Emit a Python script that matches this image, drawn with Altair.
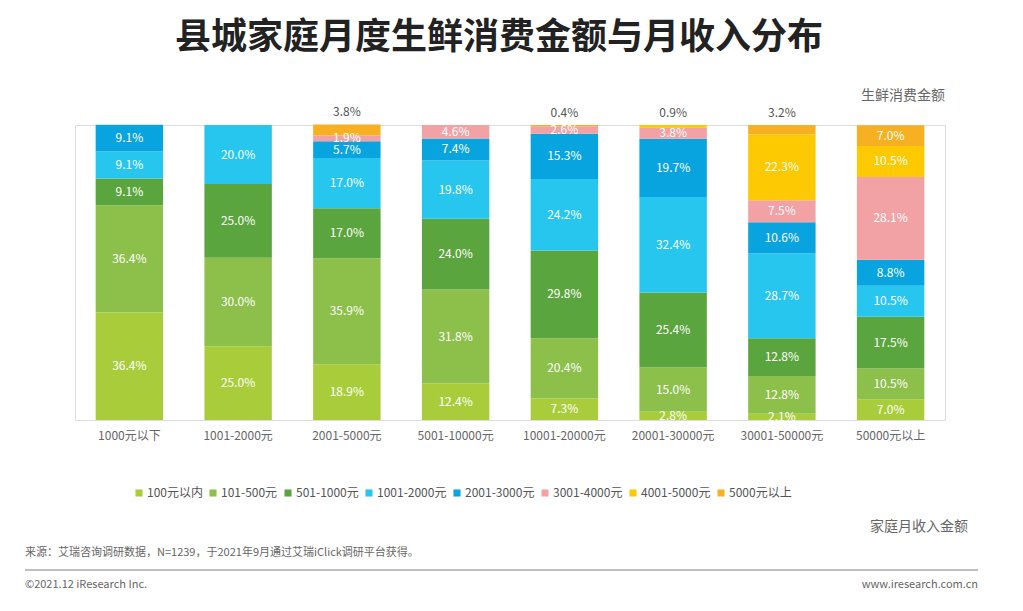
import altair as alt
import pandas as pd

incomes = ["1000元以下", "1001-2000元", "2001-5000元", "5001-10000元",
           "10001-20000元", "20001-30000元", "30001-50000元", "50000元以上"]
spends = ["100元以内", "101-500元", "501-1000元", "1001-2000元",
          "2001-3000元", "3001-4000元", "4001-5000元", "5000元以上"]
colors = ["#a9cd3a", "#8cc04b", "#5ba53e", "#27c6ef",
          "#08a4df", "#f2a1a5", "#fdc900", "#f7b021"]

# one list per income group, bottom to top in spends order
values = {
    "1000元以下":    [36.4, 36.4, 9.1, 9.1, 9.1, 0, 0, 0],
    "1001-2000元":   [25.0, 30.0, 25.0, 20.0, 0, 0, 0, 0],
    "2001-5000元":   [18.9, 35.9, 17.0, 17.0, 5.7, 1.9, 0, 3.8],
    "5001-10000元":  [12.4, 31.8, 24.0, 19.8, 7.4, 4.6, 0, 0],
    "10001-20000元": [7.3, 20.4, 29.8, 24.2, 15.3, 2.6, 0, 0.4],
    "20001-30000元": [2.8, 15.0, 25.4, 32.4, 19.7, 3.8, 0.9, 0],
    "30001-50000元": [2.1, 12.8, 12.8, 28.7, 10.6, 7.5, 22.3, 3.2],
    "50000元以上":   [7.0, 10.5, 17.5, 10.5, 8.8, 28.1, 10.5, 7.0],
}

rows = []
for inc in incomes:
    cum = 0
    vals = values[inc]
    top_idx = max(i for i, v in enumerate(vals) if v > 0)
    for i, (s, v) in enumerate(zip(spends, vals)):
        if v <= 0:
            continue
        outside = i == top_idx and v < 4
        rows.append({"income": inc, "spend": s, "order": i, "v": v,
                     "lo": cum, "hi": cum + v, "mid": cum + v / 2,
                     "label": f"{v:.1f}%", "outside": outside})
        cum += v
df = pd.DataFrame(rows)

W, H = 870, 295
x = alt.X("income:N", sort=incomes, title=None,
          scale=alt.Scale(paddingInner=0.38, paddingOuter=0.19),
          axis=alt.Axis(labelColor="#666", labelFontSize=12, ticks=False,
                        domainColor="#ddd", labelPadding=10, labelAngle=0))
yscale = alt.Scale(domain=[0, 100], nice=False)

bars = alt.Chart(df).mark_bar().encode(
    x=x,
    y=alt.Y("lo:Q", scale=yscale, axis=None),
    y2="hi:Q",
    color=alt.Color("spend:N", sort=spends,
                    scale=alt.Scale(domain=spends, range=colors),
                    legend=alt.Legend(title=None, orient="none", direction="horizontal",
                                      legendX=58, legendY=362, symbolType="square",
                                      symbolSize=50, labelFontSize=12, labelColor="#555",
                                      columnPadding=4, symbolOffset=0, labelOffset=2)),
)

inner = alt.Chart(df).transform_filter("!datum.outside").mark_text(
    color="white", fontSize=12).encode(
    x=alt.X("income:N", sort=incomes), y=alt.Y("mid:Q", scale=yscale), text="label:N")

outer = alt.Chart(df).transform_filter("datum.outside").mark_text(
    color="#555", fontSize=12, dy=-12).encode(
    x=alt.X("income:N", sort=incomes), y=alt.Y("hi:Q", scale=yscale), text="label:N")

def note(txt, px, py, size=13, color="#666", align="left", weight="normal"):
    return alt.Chart(pd.DataFrame({"t": [txt]})).mark_text(
        align=align, baseline="middle", fontSize=size, color=color, fontWeight=weight
    ).encode(x=alt.value(px - 75), y=alt.value(py - 125), text="t:N")

line = alt.Chart(pd.DataFrame({"a": [0]})).mark_rule(color="#aaa", strokeWidth=1.5).encode(
    x=alt.value(25 - 75), x2=alt.value(978 - 75), y=alt.value(570 - 125))

chart = alt.layer(
    bars, inner, outer,
    note("县城家庭月度生鲜消费金额与月收入分布", 499, 38, size=36, color="#222",
         align="center", weight="bold"),
    note("生鲜消费金额", 945, 96, size=14, align="right"),
    note("家庭月收入金额", 968, 527, size=14, align="right"),
    note("来源：艾瑞咨询调研数据，N=1239，于2021年9月通过艾瑞iClick调研平台获得。", 25, 553, size=11),
    note("©2021.12 iResearch Inc.", 25, 585, size=11),
    note("www.iresearch.com.cn", 978, 585, size=11, align="right"),
    line,
).properties(
    width=W, height=H,
    padding={"left": 67, "top": 117, "right": 70, "bottom": 183},
    autosize=alt.AutoSizeParams(type="none"),
).configure_view(stroke=None).configure(font="Noto Sans CJK SC")

chart.save("out.html", embed_options={"renderer": "svg", "actions": False})
